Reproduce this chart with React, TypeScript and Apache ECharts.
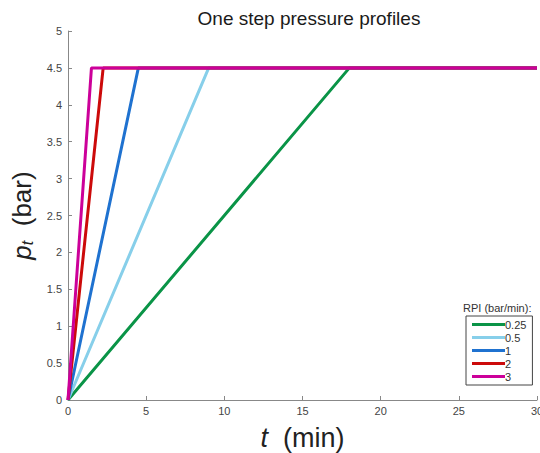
import React, { useEffect, useRef } from "react";
import * as echarts from "echarts";

const rpiNames = ["0.25", "0.5", "1", "2", "3"];
const colors = ["#0a9447", "#87cfea", "#1f72d0", "#cc0a0a", "#cc0099"];
// ramp end times (min) at which pressure reaches plateau
const rampEnd = [18, 9, 4.5, 2.25, 1.5];
const plateau = 4.5;
const tEnd = 30;
const xTicks = [0, 5, 10, 15, 20, 25, 30];
const yTicks = [0, 0.5, 1, 1.5, 2, 2.5, 3, 3.5, 4, 4.5, 5];

export default function App() {
  const ref = useRef<HTMLDivElement>(null);
  useEffect(() => {
    const chart = echarts.init(ref.current!, undefined, { renderer: "svg" });
    const font = "Liberation Sans, Arial, sans-serif";
    chart.setOption({
      animation: false,
      backgroundColor: "#fff",
      title: {
        text: "One step pressure profiles",
        left: 304,
        textAlign: "center",
        top: 4,
        textStyle: { fontFamily: font, fontSize: 19, fontWeight: "normal", color: "#1a1a1a" },
      },
      grid: { left: 68, right: 3, top: 31, bottom: 53, outerBoundsMode: "none", containLabel: false },
      xAxis: {
        type: "value",
        min: xTicks[0],
        max: xTicks[xTicks.length - 1],
        interval: 5,
        name: "{i|t}{n|  (min)}",
        nameLocation: "middle",
        nameGap: 24,
        nameTextStyle: {
          rich: {
            i: { fontFamily: font, fontSize: 27, fontStyle: "italic", color: "#222" },
            n: { fontFamily: font, fontSize: 27, color: "#222" },
          },
        },
        axisLine: { lineStyle: { color: "#888", width: 1 } },
        axisTick: { inside: true, length: 4, lineStyle: { color: "#888" } },
        axisLabel: { fontFamily: font, fontSize: 11, color: "#444", margin: 5 },
        splitLine: { show: false },
      },
      yAxis: {
        type: "value",
        min: yTicks[0],
        max: yTicks[yTicks.length - 1],
        interval: 0.5,
        name: "{i|p}{s|t}{n|  (bar)}",
        nameLocation: "middle",
        nameRotate: 90,
        nameGap: 30,
        nameTextStyle: {
          rich: {
            i: { fontFamily: font, fontSize: 26, fontStyle: "italic", color: "#222" },
            s: { fontFamily: font, fontSize: 16, fontStyle: "italic", color: "#222", padding: [12, 0, 0, 0] },
            n: { fontFamily: font, fontSize: 26, color: "#222" },
          },
        },
        axisLine: { show: true, lineStyle: { color: "#888", width: 1 } },
        axisTick: { show: true, inside: true, length: 4, lineStyle: { color: "#888" } },
        axisLabel: { fontFamily: font, fontSize: 11, color: "#444", margin: 6 },
        splitLine: { show: false },
      },
      legend: {
        orient: "vertical",
        left: 466,
        top: 316,
        width: 70,
        data: rpiNames,
        icon: "rect",
        itemWidth: 33,
        itemHeight: 3,
        itemGap: 2,
        padding: [3, 6, 3, 6],
        borderColor: "#444",
        borderWidth: 1,
        textStyle: { fontFamily: font, fontSize: 11, color: "#333", padding: [0, 0, 0, -5] },
      },
      graphic: [
        {
          type: "text",
          left: 463,
          top: 302,
          style: { text: "RPI (bar/min):", font: `11px ${font}`, fill: "#333" },
        },
      ],
      series: rpiNames.map((n, i) => ({
        name: n,
        type: "line",
        showSymbol: false,
        symbol: "none",
        lineStyle: { color: colors[i], width: 3 },
        itemStyle: { color: colors[i] },
        data: [
          [0, 0],
          [rampEnd[i], plateau],
          [tEnd, plateau],
        ],
      })),
    });
    return () => chart.dispose();
  }, []);
  return <div ref={ref} style={{ width: 540, height: 453, position: "absolute", left: 0, top: 0 }} />;
}
